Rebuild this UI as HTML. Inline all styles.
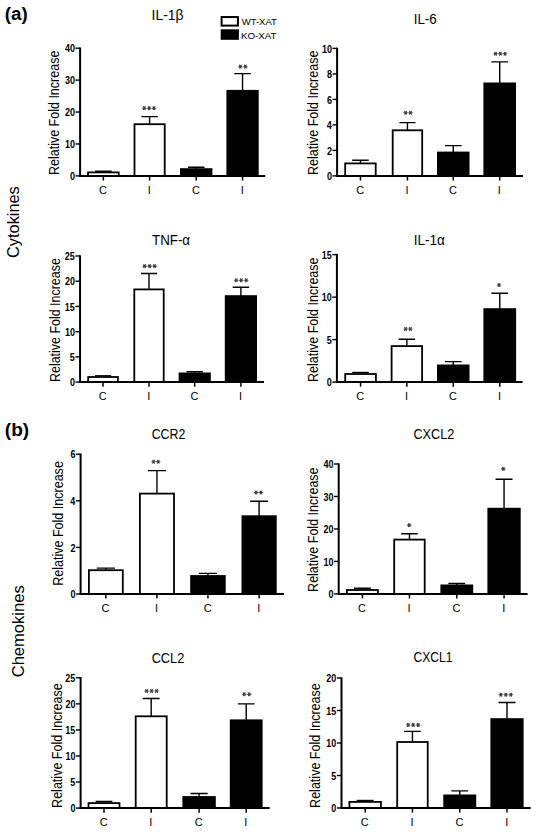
<!DOCTYPE html>
<html><head><meta charset="utf-8"><style>
html,body{margin:0;padding:0;background:#fff;}
svg{display:block;}
text{font-family:"Liberation Sans", sans-serif;fill:#000;}
</style></head><body>
<svg width="537" height="832" viewBox="0 0 537 832">
<rect width="537" height="832" fill="#fff"/>
<text x="4.87" y="19.7" font-size="17.5" font-weight="bold" textLength="22.82" lengthAdjust="spacingAndGlyphs">(a)</text>
<text x="4.85" y="435.5" font-size="17.5" font-weight="bold" textLength="24.35" lengthAdjust="spacingAndGlyphs">(b)</text>
<text x="19.3" y="257.92" transform="rotate(-90 19.3 257.92)" font-size="16.4" textLength="71.7" lengthAdjust="spacingAndGlyphs">Cytokines</text>
<text x="24" y="677.33" transform="rotate(-90 24 677.33)" font-size="16.4" textLength="92.08" lengthAdjust="spacingAndGlyphs">Chemokines</text>
<rect x="221.6" y="17.05" width="16.3" height="8.55" fill="#fff" stroke="#000" stroke-width="2"/>
<rect x="220.7" y="29.3" width="18.2" height="10.5" fill="#000"/>
<text x="241.65" y="25.1" font-size="9.9" textLength="35.27" lengthAdjust="spacingAndGlyphs">WT-XAT</text>
<text x="240.92" y="38.6" font-size="9.9" textLength="35.66" lengthAdjust="spacingAndGlyphs">KO-XAT</text>
<text x="58.7" y="175" transform="rotate(-90 58.7 175)" font-size="13.8" textLength="124.36" lengthAdjust="spacingAndGlyphs">Relative Fold Increase</text>
<text x="151.55" y="20.4" font-size="14" textLength="31.99" lengthAdjust="spacingAndGlyphs">IL-1β</text>
<path d="M95.03 171.2H111.67" stroke="#000" stroke-width="1.4" fill="none"/>
<rect x="88" y="172.4" width="30.7" height="3.5" fill="#fff" stroke="#000" stroke-width="1.8"/>
<path d="M103.35 175.9V180.5" stroke="#000" stroke-width="1.5"/>
<path d="M149.6 124.3V116.6M141.41 116.6H157.79" stroke="#000" stroke-width="1.4" fill="none"/>
<rect x="134.5" y="124.2" width="30.2" height="51.7" fill="#fff" stroke="#000" stroke-width="1.8"/>
<path d="M149.6 175.9V180.5" stroke="#000" stroke-width="1.5"/>
<path d="M196.2 169.2V167.2M187.91 167.2H204.49" stroke="#000" stroke-width="1.4" fill="none"/>
<rect x="180" y="168.2" width="32.4" height="7.7" fill="#000"/>
<path d="M196.2 175.9V180.5" stroke="#000" stroke-width="1.5"/>
<path d="M242.55 90.9V73.6M234.28 73.6H250.82" stroke="#000" stroke-width="1.4" fill="none"/>
<rect x="226.4" y="89.9" width="32.3" height="86" fill="#000"/>
<path d="M242.55 175.9V180.5" stroke="#000" stroke-width="1.5"/>
<path d="M142.57 108.15H146.07M143.44 106.63L145.19 109.67M143.44 109.67L145.19 106.63M147.4 108.15H150.9M148.28 106.63L150.03 109.67M148.28 109.67L150.03 106.63M152.23 108.15H155.73M153.11 106.63L154.86 109.67M153.11 109.67L154.86 106.63" stroke="#3a3a3a" stroke-width="1.05" stroke-linecap="round" fill="none"/>
<path d="M238.65 66.65H242.15M239.53 65.13L241.28 68.17M239.53 68.17L241.28 65.13M243.65 66.65H247.15M244.53 65.13L246.28 68.17M244.53 68.17L246.28 65.13" stroke="#3a3a3a" stroke-width="1.05" stroke-linecap="round" fill="none"/>
<text x="103.05" y="194.1" text-anchor="middle" font-size="11">C</text>
<text x="149.3" y="194.1" text-anchor="middle" font-size="11">I</text>
<text x="195.9" y="194.1" text-anchor="middle" font-size="11">C</text>
<text x="242.25" y="194.1" text-anchor="middle" font-size="11">I</text>
<path d="M75.5 175.9H80.1" stroke="#000" stroke-width="1.4"/>
<text x="69.96" y="180" font-size="10.0" font-weight="bold" textLength="5.01" lengthAdjust="spacingAndGlyphs">0</text>
<path d="M75.5 143.97H80.1" stroke="#000" stroke-width="1.4"/>
<text x="64.97" y="148.07" font-size="10.0" font-weight="bold" textLength="10.01" lengthAdjust="spacingAndGlyphs">10</text>
<path d="M75.5 112.05H80.1" stroke="#000" stroke-width="1.4"/>
<text x="64.97" y="116.15" font-size="10.0" font-weight="bold" textLength="10.01" lengthAdjust="spacingAndGlyphs">20</text>
<path d="M75.5 80.12H80.1" stroke="#000" stroke-width="1.4"/>
<text x="64.97" y="84.22" font-size="10.0" font-weight="bold" textLength="10.01" lengthAdjust="spacingAndGlyphs">30</text>
<path d="M75.5 48.2H80.1" stroke="#000" stroke-width="1.4"/>
<text x="64.97" y="52.3" font-size="10.0" font-weight="bold" textLength="10.01" lengthAdjust="spacingAndGlyphs">40</text>
<path d="M80.1 47.5V175.9" stroke="#000" stroke-width="2.0" fill="none"/>
<path d="M79.1 175.9H265.2" stroke="#000" stroke-width="2.0" fill="none"/>
<text x="318" y="175" transform="rotate(-90 318 175)" font-size="13.8" textLength="124.36" lengthAdjust="spacingAndGlyphs">Relative Fold Increase</text>
<text x="413.71" y="24" font-size="14" textLength="22.87" lengthAdjust="spacingAndGlyphs">IL-6</text>
<path d="M360.45 163.5V160.3M352.18 160.3H368.72" stroke="#000" stroke-width="1.4" fill="none"/>
<rect x="345.2" y="163.4" width="30.5" height="12.5" fill="#fff" stroke="#000" stroke-width="1.8"/>
<path d="M360.45 175.9V180.5" stroke="#000" stroke-width="1.5"/>
<path d="M407.45 130.4V122.6M399.44 122.6H415.46" stroke="#000" stroke-width="1.4" fill="none"/>
<rect x="392.7" y="130.3" width="29.5" height="45.6" fill="#fff" stroke="#000" stroke-width="1.8"/>
<path d="M407.45 175.9V180.5" stroke="#000" stroke-width="1.5"/>
<path d="M453.25 152.6V145.6M444.93 145.6H461.57" stroke="#000" stroke-width="1.4" fill="none"/>
<rect x="437" y="151.6" width="32.5" height="24.3" fill="#000"/>
<path d="M453.25 175.9V180.5" stroke="#000" stroke-width="1.5"/>
<path d="M499.7 83.5V61.9M491.35 61.9H508.05" stroke="#000" stroke-width="1.4" fill="none"/>
<rect x="483.4" y="82.5" width="32.6" height="93.4" fill="#000"/>
<path d="M499.7 175.9V180.5" stroke="#000" stroke-width="1.5"/>
<path d="M403.88 112.75H407.38M404.75 111.23L406.5 114.27M404.75 114.27L406.5 111.23M408.73 112.75H412.23M409.6 111.23L411.35 114.27M409.6 114.27L411.35 111.23" stroke="#3a3a3a" stroke-width="1.05" stroke-linecap="round" fill="none"/>
<path d="M493.82 53.75H497.32M494.69 52.23L496.44 55.27M494.69 55.27L496.44 52.23M498.55 53.75H502.05M499.43 52.23L501.18 55.27M499.43 55.27L501.18 52.23M503.28 53.75H506.78M504.16 52.23L505.91 55.27M504.16 55.27L505.91 52.23" stroke="#3a3a3a" stroke-width="1.05" stroke-linecap="round" fill="none"/>
<text x="360.15" y="194.1" text-anchor="middle" font-size="11">C</text>
<text x="407.15" y="194.1" text-anchor="middle" font-size="11">I</text>
<text x="452.95" y="194.1" text-anchor="middle" font-size="11">C</text>
<text x="499.4" y="194.1" text-anchor="middle" font-size="11">I</text>
<path d="M332.5 175.9H337.1" stroke="#000" stroke-width="1.4"/>
<text x="326.97" y="180" font-size="10.0" font-weight="bold" textLength="5.01" lengthAdjust="spacingAndGlyphs">0</text>
<path d="M332.5 150.4H337.1" stroke="#000" stroke-width="1.4"/>
<text x="326.97" y="154.5" font-size="10.0" font-weight="bold" textLength="5.01" lengthAdjust="spacingAndGlyphs">2</text>
<path d="M332.5 124.9H337.1" stroke="#000" stroke-width="1.4"/>
<text x="326.65" y="129" font-size="10.0" font-weight="bold" textLength="5.01" lengthAdjust="spacingAndGlyphs">4</text>
<path d="M332.5 99.4H337.1" stroke="#000" stroke-width="1.4"/>
<text x="326.92" y="103.5" font-size="10.0" font-weight="bold" textLength="5.01" lengthAdjust="spacingAndGlyphs">6</text>
<path d="M332.5 73.9H337.1" stroke="#000" stroke-width="1.4"/>
<text x="326.88" y="78" font-size="10.0" font-weight="bold" textLength="5.01" lengthAdjust="spacingAndGlyphs">8</text>
<path d="M332.5 48.4H337.1" stroke="#000" stroke-width="1.4"/>
<text x="321.97" y="52.5" font-size="10.0" font-weight="bold" textLength="10.01" lengthAdjust="spacingAndGlyphs">10</text>
<path d="M337.1 47.7V175.9" stroke="#000" stroke-width="2.0" fill="none"/>
<path d="M336.1 175.9H522.9" stroke="#000" stroke-width="2.0" fill="none"/>
<text x="59.7" y="382" transform="rotate(-90 59.7 382)" font-size="13.8" textLength="123.85" lengthAdjust="spacingAndGlyphs">Relative Fold Increase</text>
<text x="152.03" y="244.6" font-size="14" textLength="38.07" lengthAdjust="spacingAndGlyphs">TNF-α</text>
<path d="M94.99 375.8H111.11" stroke="#000" stroke-width="1.4" fill="none"/>
<rect x="88.2" y="377" width="29.7" height="5.1" fill="#fff" stroke="#000" stroke-width="1.8"/>
<path d="M103.05 382.1V386.7" stroke="#000" stroke-width="1.5"/>
<path d="M149 289.5V273.5M141.01 273.5H156.99" stroke="#000" stroke-width="1.4" fill="none"/>
<rect x="134.3" y="289.4" width="29.4" height="92.7" fill="#fff" stroke="#000" stroke-width="1.8"/>
<path d="M149 382.1V386.7" stroke="#000" stroke-width="1.5"/>
<path d="M194.7 373.5V371.7M186.46 371.7H202.94" stroke="#000" stroke-width="1.4" fill="none"/>
<rect x="178.6" y="372.5" width="32.2" height="9.6" fill="#000"/>
<path d="M194.7 382.1V386.7" stroke="#000" stroke-width="1.5"/>
<path d="M240.9 296.2V287.3M232.66 287.3H249.14" stroke="#000" stroke-width="1.4" fill="none"/>
<rect x="224.8" y="295.2" width="32.2" height="86.9" fill="#000"/>
<path d="M240.9 382.1V386.7" stroke="#000" stroke-width="1.5"/>
<path d="M142.85 266.1H146.35M143.72 264.58L145.47 267.62M143.72 267.62L145.47 264.58M147.85 266.1H151.35M148.72 264.58L150.47 267.62M148.72 267.62L150.47 264.58M152.85 266.1H156.35M153.72 264.58L155.47 267.62M153.72 267.62L155.47 264.58" stroke="#3a3a3a" stroke-width="1.05" stroke-linecap="round" fill="none"/>
<path d="M234.53 280.3H238.03M235.41 278.78L237.16 281.82M235.41 281.82L237.16 278.78M239.5 280.3H243M240.38 278.78L242.12 281.82M240.38 281.82L242.12 278.78M244.47 280.3H247.97M245.34 278.78L247.09 281.82M245.34 281.82L247.09 278.78" stroke="#3a3a3a" stroke-width="1.05" stroke-linecap="round" fill="none"/>
<text x="102.75" y="400.3" text-anchor="middle" font-size="11">C</text>
<text x="148.7" y="400.3" text-anchor="middle" font-size="11">I</text>
<text x="194.4" y="400.3" text-anchor="middle" font-size="11">C</text>
<text x="240.6" y="400.3" text-anchor="middle" font-size="11">I</text>
<path d="M75.45 382.1H80.05" stroke="#000" stroke-width="1.4"/>
<text x="69.91" y="386.2" font-size="10.0" font-weight="bold" textLength="5.01" lengthAdjust="spacingAndGlyphs">0</text>
<path d="M75.45 356.88H80.05" stroke="#000" stroke-width="1.4"/>
<text x="69.78" y="360.98" font-size="10.0" font-weight="bold" textLength="5.01" lengthAdjust="spacingAndGlyphs">5</text>
<path d="M75.45 331.66H80.05" stroke="#000" stroke-width="1.4"/>
<text x="64.92" y="335.76" font-size="10.0" font-weight="bold" textLength="10.01" lengthAdjust="spacingAndGlyphs">10</text>
<path d="M75.45 306.44H80.05" stroke="#000" stroke-width="1.4"/>
<text x="64.78" y="310.54" font-size="10.0" font-weight="bold" textLength="10.01" lengthAdjust="spacingAndGlyphs">15</text>
<path d="M75.45 281.22H80.05" stroke="#000" stroke-width="1.4"/>
<text x="64.92" y="285.32" font-size="10.0" font-weight="bold" textLength="10.01" lengthAdjust="spacingAndGlyphs">20</text>
<path d="M75.45 256H80.05" stroke="#000" stroke-width="1.4"/>
<text x="64.78" y="260.1" font-size="10.0" font-weight="bold" textLength="10.01" lengthAdjust="spacingAndGlyphs">25</text>
<path d="M80.05 255.3V382.1" stroke="#000" stroke-width="2.0" fill="none"/>
<path d="M79.05 382.1H264" stroke="#000" stroke-width="2.0" fill="none"/>
<text x="317.8" y="382" transform="rotate(-90 317.8 382)" font-size="13.8" textLength="124.56" lengthAdjust="spacingAndGlyphs">Relative Fold Increase</text>
<text x="413.68" y="245.3" font-size="14" textLength="31.18" lengthAdjust="spacingAndGlyphs">IL-1α</text>
<path d="M352.23 372.5H368.87" stroke="#000" stroke-width="1.4" fill="none"/>
<rect x="345.2" y="374" width="30.7" height="8.1" fill="#fff" stroke="#000" stroke-width="1.8"/>
<path d="M360.55 382.1V386.7" stroke="#000" stroke-width="1.5"/>
<path d="M406.85 346.2V339.2M398.58 339.2H415.12" stroke="#000" stroke-width="1.4" fill="none"/>
<rect x="391.6" y="346.1" width="30.5" height="36" fill="#fff" stroke="#000" stroke-width="1.8"/>
<path d="M406.85 382.1V386.7" stroke="#000" stroke-width="1.5"/>
<path d="M453.25 365.5V361.6M444.93 361.6H461.57" stroke="#000" stroke-width="1.4" fill="none"/>
<rect x="437" y="364.5" width="32.5" height="17.6" fill="#000"/>
<path d="M453.25 382.1V386.7" stroke="#000" stroke-width="1.5"/>
<path d="M499.75 309.2V293.2M491.38 293.2H508.12" stroke="#000" stroke-width="1.4" fill="none"/>
<rect x="483.4" y="308.2" width="32.7" height="73.9" fill="#000"/>
<path d="M499.75 382.1V386.7" stroke="#000" stroke-width="1.5"/>
<path d="M403.9 329H407.4M404.77 327.48L406.52 330.52M404.77 330.52L406.52 327.48M408.6 329H412.1M409.47 327.48L411.22 330.52M409.47 330.52L411.22 327.48" stroke="#3a3a3a" stroke-width="1.05" stroke-linecap="round" fill="none"/>
<path d="M497.25 284.95H500.75M498.12 283.43L499.88 286.47M498.12 286.47L499.88 283.43" stroke="#3a3a3a" stroke-width="1.05" stroke-linecap="round" fill="none"/>
<text x="360.25" y="400.3" text-anchor="middle" font-size="11">C</text>
<text x="406.55" y="400.3" text-anchor="middle" font-size="11">I</text>
<text x="452.95" y="400.3" text-anchor="middle" font-size="11">C</text>
<text x="499.45" y="400.3" text-anchor="middle" font-size="11">I</text>
<path d="M332.3 382.1H336.9" stroke="#000" stroke-width="1.4"/>
<text x="326.76" y="386.2" font-size="10.0" font-weight="bold" textLength="5.01" lengthAdjust="spacingAndGlyphs">0</text>
<path d="M332.3 339.6H336.9" stroke="#000" stroke-width="1.4"/>
<text x="326.63" y="343.7" font-size="10.0" font-weight="bold" textLength="5.01" lengthAdjust="spacingAndGlyphs">5</text>
<path d="M332.3 297.1H336.9" stroke="#000" stroke-width="1.4"/>
<text x="321.77" y="301.2" font-size="10.0" font-weight="bold" textLength="10.01" lengthAdjust="spacingAndGlyphs">10</text>
<path d="M332.3 254.6H336.9" stroke="#000" stroke-width="1.4"/>
<text x="321.63" y="258.7" font-size="10.0" font-weight="bold" textLength="10.01" lengthAdjust="spacingAndGlyphs">15</text>
<path d="M336.9 253.9V382.1" stroke="#000" stroke-width="2.0" fill="none"/>
<path d="M335.9 382.1H522.6" stroke="#000" stroke-width="2.0" fill="none"/>
<text x="62.8" y="585.8" transform="rotate(-90 62.8 585.8)" font-size="13.8" textLength="124.66" lengthAdjust="spacingAndGlyphs">Relative Fold Increase</text>
<text x="151.68" y="438.8" font-size="14" textLength="33.67" lengthAdjust="spacingAndGlyphs">CCR2</text>
<path d="M105.85 570.3V568.1M96.71 568.1H114.99" stroke="#000" stroke-width="1.4" fill="none"/>
<rect x="88.9" y="570.2" width="33.9" height="23.8" fill="#fff" stroke="#000" stroke-width="1.8"/>
<path d="M105.85 594V598.6" stroke="#000" stroke-width="1.5"/>
<path d="M156.95 493.7V470.6M147.76 470.6H166.14" stroke="#000" stroke-width="1.4" fill="none"/>
<rect x="139.9" y="493.6" width="34.1" height="100.4" fill="#fff" stroke="#000" stroke-width="1.8"/>
<path d="M156.95 594V598.6" stroke="#000" stroke-width="1.5"/>
<path d="M207.95 576.1V573.4M198.86 573.4H217.04" stroke="#000" stroke-width="1.4" fill="none"/>
<rect x="190.2" y="575.1" width="35.5" height="18.9" fill="#000"/>
<path d="M207.95 594V598.6" stroke="#000" stroke-width="1.5"/>
<path d="M259.1 516.3V501.3M250.09 501.3H268.11" stroke="#000" stroke-width="1.4" fill="none"/>
<rect x="241.5" y="515.3" width="35.2" height="78.7" fill="#000"/>
<path d="M259.1 594V598.6" stroke="#000" stroke-width="1.5"/>
<path d="M151.85 461.75H155.35M152.73 460.23L154.48 463.27M152.73 463.27L154.48 460.23M156.45 461.75H159.95M157.33 460.23L159.08 463.27M157.33 463.27L159.08 460.23" stroke="#3a3a3a" stroke-width="1.05" stroke-linecap="round" fill="none"/>
<path d="M254.38 492.45H257.88M255.25 490.93L257 493.97M255.25 493.97L257 490.93M259.23 492.45H262.73M260.1 490.93L261.85 493.97M260.1 493.97L261.85 490.93" stroke="#3a3a3a" stroke-width="1.05" stroke-linecap="round" fill="none"/>
<text x="105.55" y="612.2" text-anchor="middle" font-size="11">C</text>
<text x="156.65" y="612.2" text-anchor="middle" font-size="11">I</text>
<text x="207.65" y="612.2" text-anchor="middle" font-size="11">C</text>
<text x="258.8" y="612.2" text-anchor="middle" font-size="11">I</text>
<path d="M76 594H80.6" stroke="#000" stroke-width="1.4"/>
<text x="70.46" y="598.1" font-size="10.0" font-weight="bold" textLength="5.01" lengthAdjust="spacingAndGlyphs">0</text>
<path d="M76 547.4H80.6" stroke="#000" stroke-width="1.4"/>
<text x="70.46" y="551.5" font-size="10.0" font-weight="bold" textLength="5.01" lengthAdjust="spacingAndGlyphs">2</text>
<path d="M76 500.8H80.6" stroke="#000" stroke-width="1.4"/>
<text x="70.15" y="504.9" font-size="10.0" font-weight="bold" textLength="5.01" lengthAdjust="spacingAndGlyphs">4</text>
<path d="M76 454.2H80.6" stroke="#000" stroke-width="1.4"/>
<text x="70.42" y="458.3" font-size="10.0" font-weight="bold" textLength="5.01" lengthAdjust="spacingAndGlyphs">6</text>
<path d="M80.6 453.5V594" stroke="#000" stroke-width="2.0" fill="none"/>
<path d="M79.6 594H283.9" stroke="#000" stroke-width="2.0" fill="none"/>
<text x="317.8" y="591.9" transform="rotate(-90 317.8 591.9)" font-size="13.8" textLength="124.46" lengthAdjust="spacingAndGlyphs">Relative Fold Increase</text>
<text x="413.47" y="439.3" font-size="14" textLength="40.85" lengthAdjust="spacingAndGlyphs">CXCL2</text>
<path d="M362.4 590.1V588.2M354 588.2H370.8" stroke="#000" stroke-width="1.4" fill="none"/>
<rect x="346.9" y="590" width="31" height="3.9" fill="#fff" stroke="#000" stroke-width="1.8"/>
<path d="M362.4 593.9V598.5" stroke="#000" stroke-width="1.5"/>
<path d="M409.45 539.7V533.7M401.18 533.7H417.72" stroke="#000" stroke-width="1.4" fill="none"/>
<rect x="394.2" y="539.6" width="30.5" height="54.3" fill="#fff" stroke="#000" stroke-width="1.8"/>
<path d="M409.45 593.9V598.5" stroke="#000" stroke-width="1.5"/>
<path d="M456.8 585.5V583.5M448.4 583.5H465.2" stroke="#000" stroke-width="1.4" fill="none"/>
<rect x="440.4" y="584.5" width="32.8" height="9.4" fill="#000"/>
<path d="M456.8 593.9V598.5" stroke="#000" stroke-width="1.5"/>
<path d="M504.05 508.8V479.3M495.53 479.3H512.57" stroke="#000" stroke-width="1.4" fill="none"/>
<rect x="487.4" y="507.8" width="33.3" height="86.1" fill="#000"/>
<path d="M504.05 593.9V598.5" stroke="#000" stroke-width="1.5"/>
<path d="M407.45 525.1H410.95M408.33 523.58L410.08 526.62M408.33 526.62L410.08 523.58" stroke="#3a3a3a" stroke-width="1.05" stroke-linecap="round" fill="none"/>
<path d="M501.55 468.85H505.05M502.43 467.33L504.18 470.37M502.43 470.37L504.18 467.33" stroke="#3a3a3a" stroke-width="1.05" stroke-linecap="round" fill="none"/>
<text x="362.1" y="612.1" text-anchor="middle" font-size="11">C</text>
<text x="409.15" y="612.1" text-anchor="middle" font-size="11">I</text>
<text x="456.5" y="612.1" text-anchor="middle" font-size="11">C</text>
<text x="503.75" y="612.1" text-anchor="middle" font-size="11">I</text>
<path d="M334.1 593.9H338.7" stroke="#000" stroke-width="1.4"/>
<text x="328.56" y="598" font-size="10.0" font-weight="bold" textLength="5.01" lengthAdjust="spacingAndGlyphs">0</text>
<path d="M334.1 561.42H338.7" stroke="#000" stroke-width="1.4"/>
<text x="323.57" y="565.52" font-size="10.0" font-weight="bold" textLength="10.01" lengthAdjust="spacingAndGlyphs">10</text>
<path d="M334.1 528.95H338.7" stroke="#000" stroke-width="1.4"/>
<text x="323.57" y="533.05" font-size="10.0" font-weight="bold" textLength="10.01" lengthAdjust="spacingAndGlyphs">20</text>
<path d="M334.1 496.48H338.7" stroke="#000" stroke-width="1.4"/>
<text x="323.57" y="500.58" font-size="10.0" font-weight="bold" textLength="10.01" lengthAdjust="spacingAndGlyphs">30</text>
<path d="M334.1 464H338.7" stroke="#000" stroke-width="1.4"/>
<text x="323.57" y="468.1" font-size="10.0" font-weight="bold" textLength="10.01" lengthAdjust="spacingAndGlyphs">40</text>
<path d="M338.7 463.3V593.9" stroke="#000" stroke-width="2.0" fill="none"/>
<path d="M337.7 593.9H527.6" stroke="#000" stroke-width="2.0" fill="none"/>
<text x="62" y="807.9" transform="rotate(-90 62 807.9)" font-size="13.8" textLength="124.66" lengthAdjust="spacingAndGlyphs">Relative Fold Increase</text>
<text x="151.66" y="663" font-size="14" textLength="32.6" lengthAdjust="spacingAndGlyphs">CCL2</text>
<path d="M104 803.2V801.5M95.6 801.5H112.4" stroke="#000" stroke-width="1.4" fill="none"/>
<rect x="88.5" y="803.1" width="31" height="5" fill="#fff" stroke="#000" stroke-width="1.8"/>
<path d="M104 808.1V812.7" stroke="#000" stroke-width="1.5"/>
<path d="M151.2 716.4V698.5M142.8 698.5H159.6" stroke="#000" stroke-width="1.4" fill="none"/>
<rect x="135.7" y="716.3" width="31" height="91.8" fill="#fff" stroke="#000" stroke-width="1.8"/>
<path d="M151.2 808.1V812.7" stroke="#000" stroke-width="1.5"/>
<path d="M199.1 797.1V793.5M190.55 793.5H207.65" stroke="#000" stroke-width="1.4" fill="none"/>
<rect x="182.4" y="796.1" width="33.4" height="12" fill="#000"/>
<path d="M199.1 808.1V812.7" stroke="#000" stroke-width="1.5"/>
<path d="M246.2 720.4V703.9M237.8 703.9H254.6" stroke="#000" stroke-width="1.4" fill="none"/>
<rect x="229.8" y="719.4" width="32.8" height="88.7" fill="#000"/>
<path d="M246.2 808.1V812.7" stroke="#000" stroke-width="1.5"/>
<path d="M144.85 691H148.35M145.72 689.48L147.47 692.52M145.72 692.52L147.47 689.48M149.85 691H153.35M150.72 689.48L152.47 692.52M150.72 692.52L152.47 689.48M154.85 691H158.35M155.72 689.48L157.47 692.52M155.72 692.52L157.47 689.48" stroke="#3a3a3a" stroke-width="1.05" stroke-linecap="round" fill="none"/>
<path d="M242.45 694.2H245.95M243.32 692.68L245.07 695.72M243.32 695.72L245.07 692.68M247.45 694.2H250.95M248.32 692.68L250.07 695.72M248.32 695.72L250.07 692.68" stroke="#3a3a3a" stroke-width="1.05" stroke-linecap="round" fill="none"/>
<text x="103.7" y="826.3" text-anchor="middle" font-size="11">C</text>
<text x="150.9" y="826.3" text-anchor="middle" font-size="11">I</text>
<text x="198.8" y="826.3" text-anchor="middle" font-size="11">C</text>
<text x="245.9" y="826.3" text-anchor="middle" font-size="11">I</text>
<path d="M76 808.1H80.6" stroke="#000" stroke-width="1.4"/>
<text x="70.46" y="812.2" font-size="10.0" font-weight="bold" textLength="5.01" lengthAdjust="spacingAndGlyphs">0</text>
<path d="M76 782.04H80.6" stroke="#000" stroke-width="1.4"/>
<text x="70.33" y="786.14" font-size="10.0" font-weight="bold" textLength="5.01" lengthAdjust="spacingAndGlyphs">5</text>
<path d="M76 755.98H80.6" stroke="#000" stroke-width="1.4"/>
<text x="65.47" y="760.08" font-size="10.0" font-weight="bold" textLength="10.01" lengthAdjust="spacingAndGlyphs">10</text>
<path d="M76 729.92H80.6" stroke="#000" stroke-width="1.4"/>
<text x="65.33" y="734.02" font-size="10.0" font-weight="bold" textLength="10.01" lengthAdjust="spacingAndGlyphs">15</text>
<path d="M76 703.86H80.6" stroke="#000" stroke-width="1.4"/>
<text x="65.47" y="707.96" font-size="10.0" font-weight="bold" textLength="10.01" lengthAdjust="spacingAndGlyphs">20</text>
<path d="M76 677.8H80.6" stroke="#000" stroke-width="1.4"/>
<text x="65.33" y="681.9" font-size="10.0" font-weight="bold" textLength="10.01" lengthAdjust="spacingAndGlyphs">25</text>
<path d="M80.6 677.1V808.1" stroke="#000" stroke-width="2.0" fill="none"/>
<path d="M79.6 808.1H269.6" stroke="#000" stroke-width="2.0" fill="none"/>
<text x="320.5" y="807.9" transform="rotate(-90 320.5 807.9)" font-size="13.8" textLength="124.66" lengthAdjust="spacingAndGlyphs">Relative Fold Increase</text>
<text x="413.49" y="661.6" font-size="14" textLength="39.14" lengthAdjust="spacingAndGlyphs">CXCL1</text>
<path d="M356.63 800.5H373.67" stroke="#000" stroke-width="1.4" fill="none"/>
<rect x="349.4" y="801.9" width="31.5" height="6.1" fill="#fff" stroke="#000" stroke-width="1.8"/>
<path d="M365.15 808V812.6" stroke="#000" stroke-width="1.5"/>
<path d="M412.45 742.1V731.4M404.18 731.4H420.72" stroke="#000" stroke-width="1.4" fill="none"/>
<rect x="397.2" y="742" width="30.5" height="66" fill="#fff" stroke="#000" stroke-width="1.8"/>
<path d="M412.45 808V812.6" stroke="#000" stroke-width="1.5"/>
<path d="M459.75 795.5V790.9M451.33 790.9H468.17" stroke="#000" stroke-width="1.4" fill="none"/>
<rect x="443.3" y="794.5" width="32.9" height="13.5" fill="#000"/>
<path d="M459.75 808V812.6" stroke="#000" stroke-width="1.5"/>
<path d="M507 719.2V702.5M498.5 702.5H515.5" stroke="#000" stroke-width="1.4" fill="none"/>
<rect x="490.4" y="718.2" width="33.2" height="89.8" fill="#000"/>
<path d="M507 808V812.6" stroke="#000" stroke-width="1.5"/>
<path d="M406.45 724.9H409.95M407.32 723.38L409.07 726.42M407.32 726.42L409.07 723.38M411.45 724.9H414.95M412.32 723.38L414.07 726.42M412.32 726.42L414.07 723.38M416.45 724.9H419.95M417.32 723.38L419.07 726.42M417.32 726.42L419.07 723.38" stroke="#3a3a3a" stroke-width="1.05" stroke-linecap="round" fill="none"/>
<path d="M499.05 694.7H502.55M499.93 693.18L501.68 696.22M499.93 696.22L501.68 693.18M504.05 694.7H507.55M504.93 693.18L506.68 696.22M504.93 696.22L506.68 693.18M509.05 694.7H512.55M509.92 693.18L511.67 696.22M509.92 696.22L511.67 693.18" stroke="#3a3a3a" stroke-width="1.05" stroke-linecap="round" fill="none"/>
<text x="364.85" y="826.2" text-anchor="middle" font-size="11">C</text>
<text x="412.15" y="826.2" text-anchor="middle" font-size="11">I</text>
<text x="459.45" y="826.2" text-anchor="middle" font-size="11">C</text>
<text x="506.7" y="826.2" text-anchor="middle" font-size="11">I</text>
<path d="M336.9 808H341.5" stroke="#000" stroke-width="1.4"/>
<text x="331.37" y="812.1" font-size="10.0" font-weight="bold" textLength="5.01" lengthAdjust="spacingAndGlyphs">0</text>
<path d="M336.9 775.5H341.5" stroke="#000" stroke-width="1.4"/>
<text x="331.23" y="779.6" font-size="10.0" font-weight="bold" textLength="5.01" lengthAdjust="spacingAndGlyphs">5</text>
<path d="M336.9 743H341.5" stroke="#000" stroke-width="1.4"/>
<text x="326.37" y="747.1" font-size="10.0" font-weight="bold" textLength="10.01" lengthAdjust="spacingAndGlyphs">10</text>
<path d="M336.9 710.5H341.5" stroke="#000" stroke-width="1.4"/>
<text x="326.24" y="714.6" font-size="10.0" font-weight="bold" textLength="10.01" lengthAdjust="spacingAndGlyphs">15</text>
<path d="M336.9 678H341.5" stroke="#000" stroke-width="1.4"/>
<text x="326.37" y="682.1" font-size="10.0" font-weight="bold" textLength="10.01" lengthAdjust="spacingAndGlyphs">20</text>
<path d="M341.5 677.3V808" stroke="#000" stroke-width="2.0" fill="none"/>
<path d="M340.5 808H530.6" stroke="#000" stroke-width="2.0" fill="none"/>
</svg>
</body></html>
